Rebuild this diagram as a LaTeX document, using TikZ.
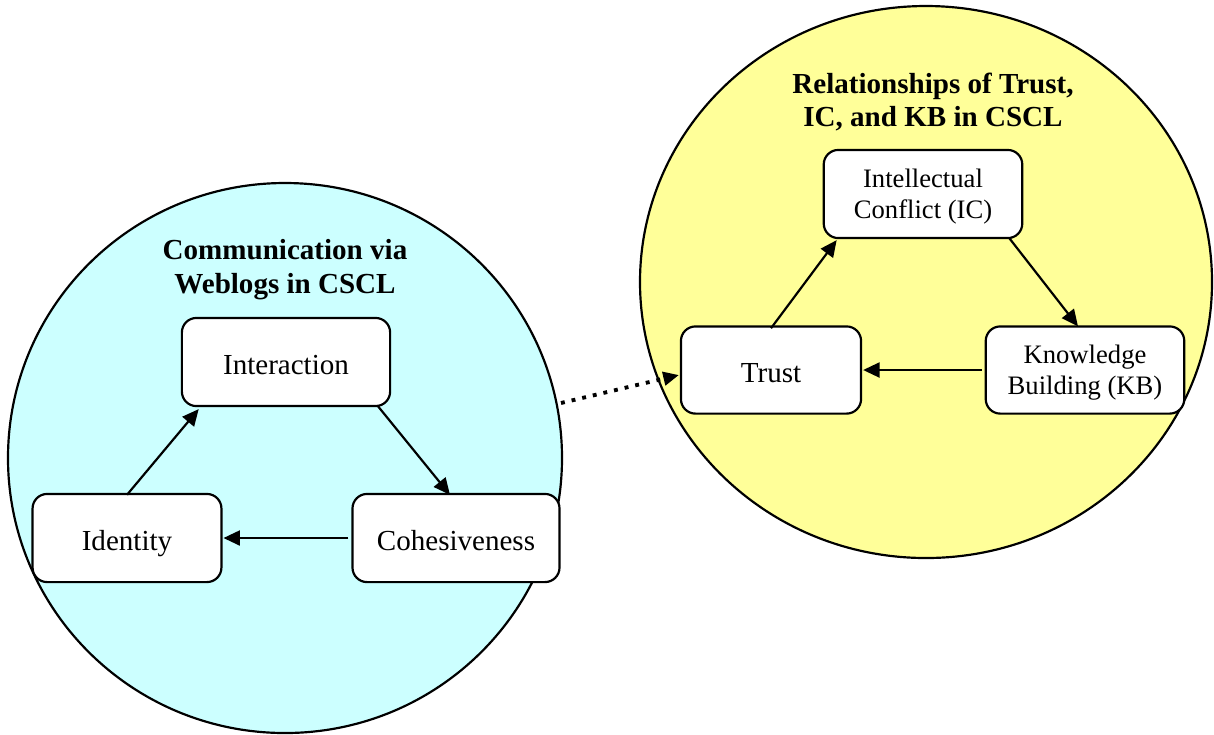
\documentclass[tikz,border=0pt]{standalone}
\usepackage{fontspec}
\setmainfont{Liberation Serif}
\usetikzlibrary{shapes,arrows.meta,positioning,calc}
\definecolor{blogcyan}{HTML}{CCFFFF}
\definecolor{trustyellow}{HTML}{FFFF99}

\begin{document}
\begin{tikzpicture}[x=0.413pt, y=-0.413pt,
    box/.style={draw, line width=0.9pt, fill=white, rounded corners=6pt, align=center, minimum height=36.4pt, text height=12pt, text depth=1.5pt, font=\fontsize{12}{14}\selectfont},
    smallbox/.style={box, text height={}, text depth=0pt, font=\fontsize{11}{13}\selectfont},
    title/.style={align=center, font=\fontsize{12}{14}\selectfont\bfseries},
    link/.style={-{Triangle[length=6.8pt, width=6.2pt]}, line width=0.9pt}]
% Canvas
\useasboundingbox (0,0) rectangle (1214,734);

% Circles
\draw[line width=0.9pt, fill=blogcyan] (285,458) ellipse [x radius=277, y radius=275];
\draw[line width=0.9pt, fill=trustyellow] (926,282) ellipse [x radius=286, y radius=276];

% Titles
\node[title] (blogtitle) at (285,270) {Communication via\\Weblogs in CSCL};
\node[title] (trusttitle) at (933,102) {Relationships of Trust,\\IC, and KB in CSCL};

% Dotted link between the circles
\coordinate (dotstart) at (561,403);
\draw[line width=1.6pt, dash pattern=on 1.6pt off 2.9pt, -{Triangle[length=6.5pt, width=5.5pt]}] (dotstart) -- (679,375);

% Left boxes
\node[box, minimum width=86pt] (inter) at (286,362) {Interaction};
\node[box, minimum width=78pt] (ident) at (127,538) {Identity};
\node[box, minimum width=85.5pt] (cohes) at (456,538) {Cohesiveness};

% Right boxes
\node[smallbox, minimum width=82pt] (conflict) at (923,194) {Intellectual\\Conflict (IC)};
\node[box, minimum width=74.4pt, minimum height=36pt] (trust) at (771,370) {Trust};
\node[smallbox, minimum width=82pt, minimum height=36pt] (kb) at (1085,370) {Knowledge\\Building (KB)};

% Arrows
\draw[link] ([yshift=-0.8pt]ident.north) -- ([xshift=7.4pt, yshift=-0.8pt]inter.south west);
\draw[link] ([xshift=-5.8pt, yshift=0.8pt]inter.south east) -- ([xshift=-2.5pt, yshift=-0.8pt]cohes.north);
\draw[link] ([xshift=-1.2pt]cohes.west) -- ([xshift=0.4pt]ident.east);

\draw[link] ([yshift=-1.2pt]trust.north) -- ([xshift=5.8pt, yshift=-0.4pt]conflict.south west);
\draw[link] ([xshift=-5.8pt, yshift=0.4pt]conflict.south east) -- ([xshift=-2.9pt, yshift=-0.4pt]kb.north);
\draw[link] ([xshift=-1.2pt]kb.west) -- ([xshift=0.4pt]trust.east);
\end{tikzpicture}
\end{document}
